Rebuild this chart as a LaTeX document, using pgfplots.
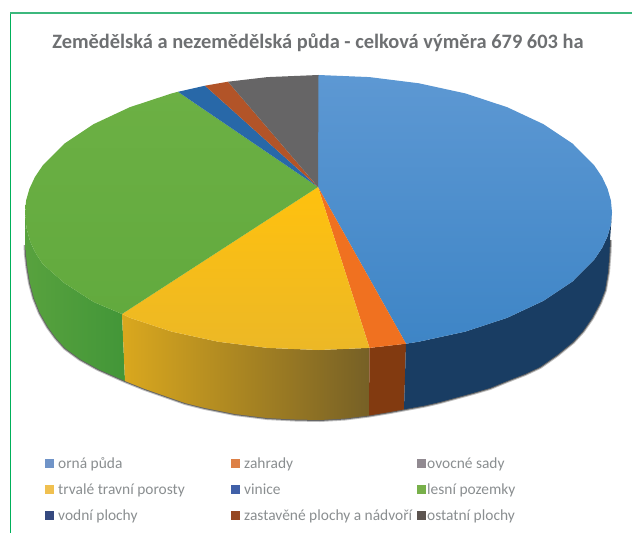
\documentclass[border=0pt]{standalone}
\usepackage{pgfplots}
\pgfplotsset{compat=1.18}
\usepackage{fontspec}
\setmainfont{Carlito}
\definecolor{titlegray}{HTML}{6E7072}
\definecolor{leggray}{HTML}{8A8E90}
\begin{document}
\begin{tikzpicture}
\useasboundingbox (0,0) rectangle (632bp,533bp);
\begin{axis}[at={(0,0)},anchor=south west,scale only axis,width=632bp,height=533bp,
  xmin=0,xmax=632,ymin=0,ymax=533,y dir=reverse,axis lines=none,clip=false]
% frame
\addplot[color={rgb,255:red,0;green,176;blue,90},line width=1.3bp] coordinates {(10.5,533) (10.5,13)};
\addplot[color={rgb,255:red,60;green,184;blue,125},line width=1.3bp] coordinates {(10,13) (632,13)};
% shadow under the pie
\addplot[color=black!25,line width=4bp,line join=round] coordinates {(25.5,245) (26,255) (27.5,268) (30,283) (34,298) (40,313) (48,327) (56,338) (65,348) (80,359) (98,369) (125,381) (145,389) (165,396) (185,403) (205,408) (235,414) (267,418) (295,419.5) (320,420) (345,418.5) (369,415.5) (390,412) (406,409) (425,405.5) (440,402) (473,393) (490,388) (507,381) (525,374) (540,367) (557,355) (573,342) (583,331) (592,318) (600,303) (605,290) (608,272) (609.5,253) (610,240)};
\addplot[color=black!60,line width=2bp,line join=round] coordinates {(25.5,245) (26,255) (27.5,268) (30,283) (34,298) (40,313) (48,327) (56,338) (65,348) (80,359) (98,369) (125,381) (145,389) (165,396) (185,403) (205,408) (235,414) (267,418) (295,419.5) (320,420) (345,418.5) (369,415.5) (390,412) (406,409) (425,405.5) (440,402) (473,393) (490,388) (507,381) (525,374) (540,367) (557,355) (573,342) (583,331) (592,318) (600,303) (605,290) (608,272) (609.5,253) (610,240)};
% sides
\addplot[draw=none,left color={rgb,255:red,88;green,162;blue,62},right color={rgb,255:red,66;green,150;blue,56}] coordinates {(25,212.5) (26.5,228) (30,241) (35,252) (42.7,264) (64.3,283) (93.7,302) (122,314) (125,381) (98,369) (80,359) (65,348) (56,338) (48,327) (40,313) (34,298) (30,283) (27.5,268) (26,255) (25.5,245)} --cycle;
\addplot[draw=none,left color={rgb,255:red,218;green,168;blue,30},middle color={rgb,255:red,140;green,112;blue,38},right color={rgb,255:red,118;green,96;blue,38}] coordinates {(122,314) (129.8,317.8) (171.7,331.6) (218.1,341.7) (267.5,347.9) (318.5,350) (369.5,347.9) (369,415.5) (345,418.5) (320,420) (295,419.5) (267,418) (235,414) (205,408) (185,403) (165,396) (145,389) (125,381)} --cycle;
\addplot[draw=none,fill={rgb,255:red,130;green,58;blue,16}] coordinates {(369.5,347.9) (406,343.7) (404,409.4) (390,412) (369,415.5)} --cycle;
\addplot[draw=none,fill={rgb,255:red,25;green,61;blue,99}] coordinates {(406,343.7) (418.9,341.7) (465.3,331.6) (507.2,317.8) (543.3,300.9) (572.7,281.3) (594.3,259.5) (602,248.1) (607.5,236.4) (610.9,224.5) (612,212.5) (610,240) (609.5,253) (608,272) (605,290) (600,303) (592,318) (583,331) (573,342) (557,355) (540,367) (525,374) (507,381) (490,388) (473,393) (440,402) (425,405.5) (406,409) (404,409.4)} --cycle;
% top face
\addplot[draw=none,top color={rgb,255:red,93;green,152;blue,211},bottom color={rgb,255:red,62;green,133;blue,198}] coordinates {(318,187) (318.5,75) (369.5,77.1) (418.9,83.3) (465.3,93.4) (507.2,107.2) (543.3,124.1) (572.7,143.7) (594.3,165.5) (602,176.9) (607.5,188.6) (610.9,200.5) (612,212.5) (610.9,224.5) (607.5,236.4) (602,248.1) (594.3,259.5) (572.7,281.3) (543.3,300.9) (507.2,317.8) (465.3,331.6) (418.9,341.7) (406,343.7)} --cycle;
\addplot[draw=none,fill={rgb,255:red,240;green,113;blue,32}] coordinates {(318,187) (406,343.7) (369.5,347.9)} --cycle;
\addplot[draw=none,top color={rgb,255:red,255;green,193;blue,14},bottom color={rgb,255:red,236;green,184;blue,38}] coordinates {(318,187) (369.5,347.9) (318.5,350) (267.5,347.9) (218.1,341.7) (171.7,331.6) (129.8,317.8) (122,314)} --cycle;
\addplot[draw=none,top color={rgb,255:red,108;green,176;blue,68},bottom color={rgb,255:red,98;green,170;blue,62}] coordinates {(318,187) (122,314) (93.7,302) (64.3,283) (42.7,264) (35,252) (30,241) (26.5,228) (25,212.5) (26.1,200.5) (29.5,188.6) (35,176.9) (42.7,165.5) (64.3,143.7) (93.7,124.1) (129.8,107.2) (171.7,93.4) (178,91.8)} --cycle;
\addplot[draw=none,fill={rgb,255:red,40;green,104;blue,168}] coordinates {(318,187) (178,91.8) (205,85.7)} --cycle;
\addplot[draw=none,fill={rgb,255:red,178;green,84;blue,40}] coordinates {(318,187) (205,85.7) (228,81.7)} --cycle;
\addplot[draw=none,fill={rgb,255:red,102;green,101;blue,102}] coordinates {(318,187) (228,81.7) (267.5,77.1) (318.5,75)} --cycle;
% legend swatches
\addplot[only marks,mark=square*,mark size=3.8bp,color={rgb,255:red,112;green,148;blue,200}] coordinates {(49,463)};
\addplot[only marks,mark=square*,mark size=3.8bp,color={rgb,255:red,221;green,128;blue,70}] coordinates {(235,463)};
\addplot[only marks,mark=square*,mark size=3.8bp,color={rgb,255:red,145;green,138;blue,145}] coordinates {(421,463)};
\addplot[only marks,mark=square*,mark size=3.8bp,color={rgb,255:red,240;green,192;blue,80}] coordinates {(49,489)};
\addplot[only marks,mark=square*,mark size=3.8bp,color={rgb,255:red,64;green,96;blue,168}] coordinates {(235,489)};
\addplot[only marks,mark=square*,mark size=3.8bp,color={rgb,255:red,120;green,176;blue,74}] coordinates {(421,489)};
\addplot[only marks,mark=square*,mark size=3.8bp,color={rgb,255:red,53;green,73;blue,127}] coordinates {(49,515)};
\addplot[only marks,mark=square*,mark size=3.8bp,color={rgb,255:red,150;green,72;blue,34}] coordinates {(235,515)};
\addplot[only marks,mark=square*,mark size=3.8bp,color={rgb,255:red,92;green,84;blue,80}] coordinates {(421,515)};
% text
\node[anchor=center,inner sep=0pt,text=titlegray,font=\fontsize{20.5}{24}\selectfont\bfseries] at (318,43) {Zemědělská a nezemědělská půda - celková výměra 679 603 ha};
\foreach \x/\y/\t in {58/468/orná půda,244/468/zahrady,427/468/ovocné sady,58/494/trvalé travní porosty,244/494/vinice,427/494/lesní pozemky,58/520/vodní plochy,244/520/zastavěné plochy a nádvoří,427/520/ostatní plochy}{
  \edef\tmp{\noexpand\node[anchor=base west,inner sep=0pt,text=leggray,font=\noexpand\fontsize{15.5}{18}\noexpand\selectfont] at (\x,\y) {\t};}
  \tmp
}
\end{axis}
\end{tikzpicture}
\end{document}
